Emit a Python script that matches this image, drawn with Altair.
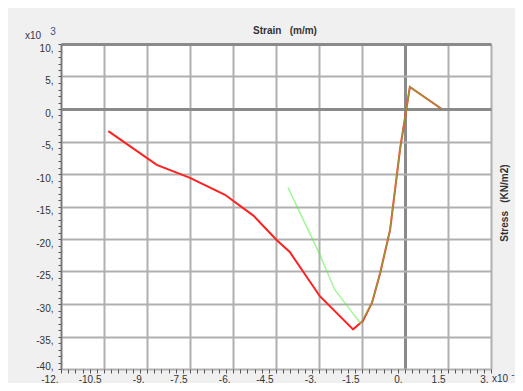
import altair as alt
import pandas as pd
import numpy as np

# Strain (x10^-3 m/m) and stress (x10^3 KN/m2)
red_strain = [-10.35, -8.66, -7.5, -6.28, -5.29, -4.47, -4.02, -2.97, -1.81, -1.47, -1.15, -0.87, -0.52, -0.17, 0.17, 1.28]
red_stress = [-3.4, -8.6, -10.6, -13.2, -16.4, -20.2, -22.0, -28.8, -33.9, -32.6, -29.8, -25.3, -18.6, -6.1, 3.4, 0.0]
green_strain = [-4.08, -2.97, -2.45, -1.55, -1.15, -0.87, -0.52, -0.17, 0.17, 1.28]
green_stress = [-12.1, -22.4, -27.8, -33.0, -29.8, -25.3, -18.6, -6.1, 3.4, 0.0]

x_ticks = [float(v) for v in np.arange(-12, 3.001, 0.25)]
y_ticks = list(range(-40, 11))

red = pd.DataFrame({"strain": red_strain, "stress": red_stress, "i": range(len(red_strain))})
green = pd.DataFrame({"strain": green_strain, "stress": green_stress, "i": range(len(green_strain))})

xscale = alt.Scale(domain=[-12, 3], nice=False, zero=False)
yscale = alt.Scale(domain=[-40, 10], nice=False, zero=False)

x_major = "(datum.value*2) % 3 == 0"
y_major = "datum.value % 5 == 0"

xaxis = alt.Axis(
    values=x_ticks, title=None, domain=False,
    labelExpr=f"{x_major} ? (datum.value % 1 == 0 ? datum.value + ',' : '' + datum.value) : ''",
    labelAlign="right", labelOffset=-3, labelBaseline="top", labelPadding=1,
    labelFont="Liberation Sans", labelFontSize=10, labelColor="#333333",
    tickSize=4, tickColor="#555555", tickWidth=1,
    grid=True,
    gridOpacity={"condition": {"test": x_major, "value": 1}, "value": 0},
    gridColor={"condition": {"test": "datum.value == 0", "value": "#8a8a8a"}, "value": "#b0b0b0"},
    gridWidth={"condition": {"test": "datum.value == 0", "value": 3}, "value": 2},
    labelOverlap=False, labelBound=False, labelFlush=False,
)
yaxis = alt.Axis(
    values=y_ticks, title=None, domain=True, domainColor="#777777", domainWidth=1.5,
    labelExpr=f"{y_major} ? datum.value + ',' : ''",
    labelBaseline="middle", labelPadding=5,
    labelOffset={"condition": {"test": "datum.value == -40", "value": -3}, "value": 4},
    labelFont="Liberation Sans", labelFontSize=10, labelColor="#333333",
    tickSize=3, tickColor="#555555", tickWidth=1,
    grid=True,
    gridOpacity={"condition": {"test": y_major, "value": 1}, "value": 0},
    gridColor={"condition": {"test": "datum.value == 0 || datum.value == 10", "value": "#8a8a8a"}, "value": "#b0b0b0"},
    gridWidth={"condition": {"test": "datum.value == 0 || datum.value == 10", "value": 3}, "value": 2},
    labelOverlap=False, labelBound=False, labelFlush=False,
)

X = alt.X("strain:Q", scale=xscale, axis=xaxis)
Y = alt.Y("stress:Q", scale=yscale, axis=yaxis)

red_line = alt.Chart(red).mark_line(color="#ff2020", strokeWidth=2).encode(x=X, y=Y, order="i:Q")
green_line = alt.Chart(green).mark_line(color="#55ee44", strokeWidth=1.5, opacity=0.55).encode(x=X, y=Y, order="i:Q")

def label(txt, x, y, size=10, color="#333333", weight="normal", angle=0):
    return alt.Chart(pd.DataFrame({"t": [txt]})).mark_text(
        fontSize=size, color=color, fontWeight=weight, font="Liberation Sans", angle=angle,
        align="center", baseline="middle"
    ).encode(text="t:N", x=alt.value(x), y=alt.value(y))

NB = "\u00a0"
texts = [
    label(f"Strain{NB*3}(m/m)", 224, -13, 10, "#333333", "bold"),
    label(f"Stress{NB*3}(KN/m2)", 444, 159, 10, "#333333", "bold", 270),
    label("x10", -28, -8, 10, "#333355"),
    label("3", -8, -12, 10, "#335588"),
    label("x10", 439, 335, 10, "#333355"),
    label("-", 452, 331, 10, "#335588"),
]

chart = alt.layer(red_line, green_line, *texts).properties(
    width=430, height=325,
    autosize=alt.AutoSizeParams(type="none"),
    padding={"left": 53, "top": 36, "right": 24, "bottom": 14},
    background="#f0f0f0",
).configure_view(fill="white", stroke=None)

chart.save("out.html", embed_options={"renderer": "svg", "actions": False})
